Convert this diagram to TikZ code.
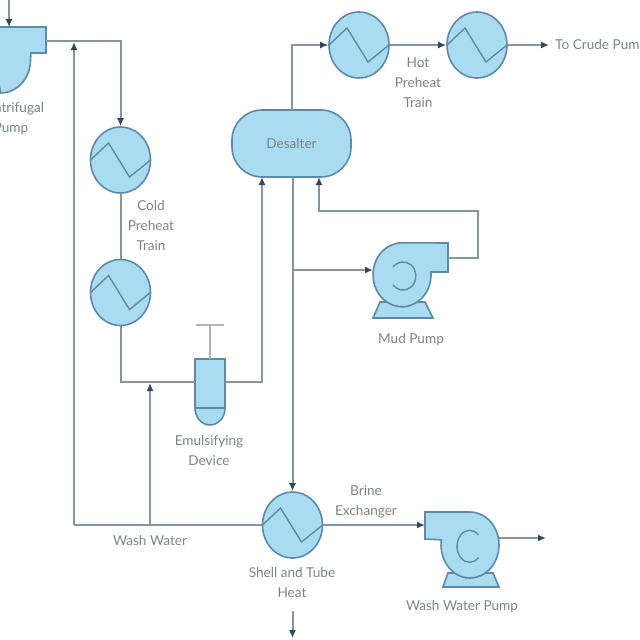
\documentclass[tikz,border=0pt]{standalone}
\usepackage{fontspec}
\setmainfont{Lato}
\usetikzlibrary{arrows.meta,shapes.geometric,calc}
\definecolor{vessel}{HTML}{A9DBF3}
\definecolor{rim}{HTML}{5E8AA5}
\definecolor{pipe}{HTML}{8A949C}
\definecolor{tip}{HTML}{2E4A60}
\definecolor{caption}{HTML}{7C8488}
\tikzset{
  x=1pt,y=-1pt,
  shell/.style={draw=rim,fill=vessel,line width=1.6pt},
  hx/.style={shape=ellipse,shell,inner sep=0pt,minimum width=60pt,minimum height=66pt,
    path picture={\draw[rim,line width=1.4pt]
      ([shift={(-30,0)}]path picture bounding box.center) --
      ([shift={(-12,-17)}]path picture bounding box.center) --
      ([shift={(9,17)}]path picture bounding box.center) --
      ([shift={(30,0)}]path picture bounding box.center);}},
  pipeline/.style={draw=pipe,line width=2pt},
  flow/.style={pipeline,-{Latex[length=8pt,width=7pt,color=tip]}},
  caption/.style={text=caption,font=\fontsize{13.6}{20}\selectfont,align=center,inner sep=0pt},
  % centrifugal pump with its discharge to the right of the casing
  pump right/.pic={
    \path[shell] (-22,27) -- (-29,43) -- (31,43) -- (23,27) -- cycle;
    \path[shell] (28.9,-3) arc[start angle=-5,end angle=270,x radius=29,y radius=32]
      -- (46,-32) -- (46,-3) -- cycle;
    \draw[rim,line width=1.4pt] (-9,-8) arc[start angle=-140,end angle=140,x radius=13,y radius=14];
  },
  % the same pump with its discharge to the left
  pump left/.pic={
    \path[shell] (-22,28) -- (-27,42) -- (29,42) -- (23,28) -- cycle;
    \path[shell] (0,-33) arc[start angle=-90,end angle=189,x radius=29,y radius=33]
      -- (-45,-6) -- (-45,-33) -- cycle;
    \draw[rim,line width=1.4pt] (8.4,-10) arc[start angle=-45,end angle=-315,x radius=12.5,y radius=16];
  },
}
\begin{document}
\begin{tikzpicture}
\useasboundingbox (0,0) rectangle (640,640);
\clip (0,0) rectangle (640,640);

% heat exchangers
\node[hx] (cold1) at (120.5,160) {};
\node[hx] (cold2) at (120.5,292.5) {};
\node[hx] (hot1) at (359,45) {};
\node[hx] (hot2) at (477,45) {};
\node[hx] (stube) at (292.5,525) {};

% desalter drum
\node[shell,shape=rectangle,rounded corners=30pt,minimum width=119pt,minimum height=67pt,
      inner sep=0pt,text=caption,font=\fontsize{13.6}{14}\selectfont] (desalter) at (291.5,143.5) {Desalter};

% centrifugal pump at the upper left, cut by the sheet edge
\path[shell] (-10,27) -- (46,27) -- (46,53) -- (31,53) -- (30.5,60)
  arc[start angle=0,end angle=90,x radius=30,y radius=33] -- cycle;

% mud pump and wash water pump
\pic at (402,275) {pump right};
\pic at (470,545) {pump left};

% emulsifier body with its plunger
\path[shell] (195,359) -- (225,359) -- (225,408)
  arc[start angle=0,end angle=180,x radius=15,y radius=17] -- cycle;
\draw[rim,line width=1.6pt] (195,408) -- (225,408);
\coordinate (emulL) at (195,382);
\coordinate (emulR) at (225,382);
\coordinate (emulTop) at (210,359);
\coordinate (barL) at (196,325);
\coordinate (barR) at (224,325);
\coordinate (barC) at (210,325);
\draw[pipeline,draw=pipe!70] (barL) -- (barR);
\draw[pipeline,draw=pipe!70] (barC) -- (emulTop);

% named pipe ends
\coordinate (feedTop) at (9,-2);
\coordinate (feedIn) at (9,27);
\coordinate (cpOut) at (46,41);
\coordinate (cpRun) at (120.5,41);
\coordinate (washCol) at (74,42);
\coordinate (washCorner) at (74,525);
\coordinate (washTee) at (150,525);
\coordinate (washUp) at (150,383);
\coordinate (coldBend) at (120.5,382);
\coordinate (toDes) at (262,382);
\coordinate (desIn) at (262,177);
\coordinate (desTop) at (292,110);
\coordinate (desTopBend) at (292,45);
\coordinate (desBot) at (292.5,177);
\coordinate (mudTee) at (292.5,270);
\coordinate (mudIn) at (373,270);
\coordinate (mudOut) at (448,258);
\coordinate (mudA) at (478,258);
\coordinate (mudB) at (478,211);
\coordinate (mudC) at (319,211);
\coordinate (mudD) at (319,177);
\coordinate (crudeEnd) at (549,45);
\coordinate (wwIn) at (425,525);
\coordinate (wwOut) at (499,538);
\coordinate (wwEnd) at (546,538);
\coordinate (drainTop) at (292.5,611);
\coordinate (drainEnd) at (292.5,638);

% pipework
\draw[flow] (feedTop) -- (feedIn);
\draw[flow] (cpOut) -- (cpRun) -- (cold1.north);
\draw[pipeline] (cold1.south) -- (cold2.north);
\draw[pipeline] (cold2.south) -- (coldBend) -- (emulL);
\draw[flow] (emulR) -- (toDes) -- (desIn);
\draw[flow] (washCorner) -- (washCol);
\draw[pipeline] (washCorner) -- (stube.west);
\draw[flow] (washTee) -- (washUp);
\draw[flow] (desBot) -- (stube.north);
\draw[flow] (mudTee) -- (mudIn);
\draw[flow] (mudOut) -- (mudA) -- (mudB) -- (mudC) -- (mudD);
\draw[flow] (desTop) -- (desTopBend) -- (hot1.west);
\draw[flow] (hot1.east) -- (hot2.west);
\draw[flow] (hot2.east) -- (crudeEnd);
\draw[flow] (stube.east) -- (wwIn);
\draw[flow] (wwOut) -- (wwEnd);
\draw[flow] (drainTop) -- (drainEnd);

% captions
\node[caption] (capCentrifugal) at (11,119) {Centrifugal\\Pump};
\node[caption] (capCold) at (151,226) {Cold\\Preheat\\Train};
\node[caption] (capHot) at (418,82.5) {Hot\\Preheat\\Train};
\node[caption,anchor=west] (capCrude) at (555,46) {To Crude Pump};
\node[caption] (capMud) at (411,339.5) {Mud Pump};
\node[caption] (capEmul) at (209,451) {Emulsifying\\Device};
\node[caption] (capWash) at (150,541) {Wash Water};
\node[caption] (capBrine) at (366,502) {Brine\\Exchanger};
\node[caption] (capTube) at (292,583) {Shell and Tube\\Heat};
\node[caption] (capWashPump) at (462,607) {Wash Water Pump};
\end{tikzpicture}
\end{document}
